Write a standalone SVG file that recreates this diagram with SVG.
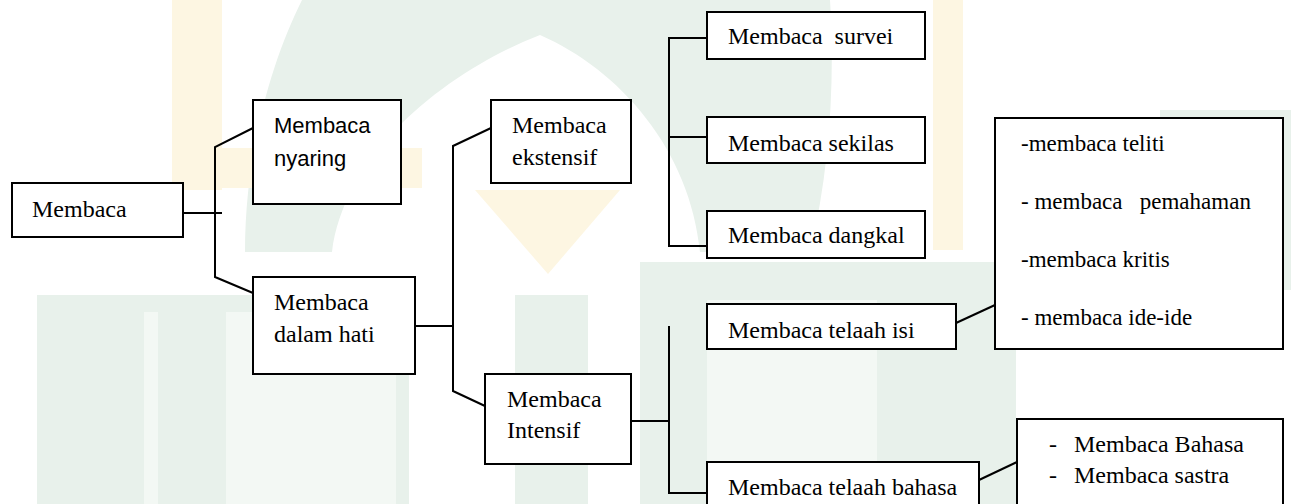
<svg xmlns="http://www.w3.org/2000/svg" width="1291" height="504" viewBox="0 0 1291 504">
  <style>
    .box { fill: #ffffff; stroke: #000000; stroke-width: 2; }
    .conn { fill: none; stroke: #000000; stroke-width: 2; stroke-linejoin: miter; }
    .t { font-family: "Liberation Serif", "Times New Roman", serif; font-size: 24px; fill: #000000; white-space: pre; }
    .t23 { font-size: 23px; }
    .s { font-family: "Liberation Sans", Arial, sans-serif; font-size: 22px; fill: #000000; }
    .wg { fill: #e8f1eb; }
    .wl { fill: #f3f8f4; }
    .wy { fill: #fdf6e2; }
  </style>
  <rect x="0" y="0" width="1291" height="504" fill="#ffffff"/>

  <g id="watermark">
    <path class="wg" d="M 245 252 C 245 150 272 60 302 0 L 830 0 C 835 80 830 170 810 252 L 700 252 C 690 150 620 70 540 35 C 450 70 345 150 332 252 Z"/>
    <rect class="wy" x="172" y="0" width="50" height="190"/>
    <rect class="wy" x="222" y="148" width="200" height="40"/>
    <rect class="wy" x="933" y="0" width="30" height="250"/>
    <polygon class="wy" points="475,190 620,190 548,274"/>
    <rect class="wg" x="37" y="295" width="372" height="209"/>
    <rect class="wl" x="144" y="312" width="14" height="192"/>
    <rect class="wl" x="226" y="312" width="170" height="192"/>
    <rect class="wg" x="515" y="295" width="73" height="209"/>
    <rect class="wg" x="640" y="262" width="376" height="242"/>
    <rect class="wl" x="707" y="300" width="170" height="204"/>
    <rect class="wg" x="1160" y="110" width="131" height="180"/>
  </g>

  <g id="connectors">
    <polyline class="conn" points="183,213 222,213"/>
    <polyline class="conn" points="253,128 215,147 215,277 253,293"/>
    <polyline class="conn" points="415,326 453,326"/>
    <polyline class="conn" points="491,128 453,146 453,391 485,406"/>
    <polyline class="conn" points="707,38 669,38 669,246 707,246"/>
    <polyline class="conn" points="669,137 707,137"/>
    <polyline class="conn" points="631,421 669,421"/>
    <polyline class="conn" points="669,326 669,493 707,493"/>
    <polyline class="conn" points="956,323 995,305"/>
    <polyline class="conn" points="979,480 1017,462"/>
  </g>

  <g id="n-membaca">
    <rect class="box" x="12" y="183" width="171" height="54"/>
    <text class="t" x="32" y="217">Membaca</text>
  </g>
  <g id="n-nyaring">
    <rect class="box" x="253" y="100" width="148" height="104"/>
    <text class="s" x="274" y="133">Membaca</text>
    <text class="s" x="274" y="166">nyaring</text>
  </g>
  <g id="n-dalam-hati">
    <rect class="box" x="253" y="277" width="162" height="97"/>
    <text class="t" x="274" y="310">Membaca</text>
    <text class="t" x="274" y="342">dalam hati</text>
  </g>
  <g id="n-ekstensif">
    <rect class="box" x="491" y="100" width="140" height="83"/>
    <text class="t" x="512" y="133">Membaca</text>
    <text class="t" x="512" y="165">ekstensif</text>
  </g>
  <g id="n-intensif">
    <rect class="box" x="485" y="374" width="146" height="90"/>
    <text class="t" x="507" y="407">Membaca</text>
    <text class="t" x="507" y="438">Intensif</text>
  </g>
  <g id="n-survei">
    <rect class="box" x="707" y="12" width="218" height="47"/>
    <text class="t" x="728" y="44">Membaca  survei</text>
  </g>
  <g id="n-sekilas">
    <rect class="box" x="707" y="117" width="218" height="46"/>
    <text class="t" x="728" y="151">Membaca sekilas</text>
  </g>
  <g id="n-dangkal">
    <rect class="box" x="707" y="211" width="218" height="47"/>
    <text class="t" x="728" y="243">Membaca dangkal</text>
  </g>
  <g id="n-telaah-isi">
    <rect class="box" x="707" y="304" width="249" height="45"/>
    <text class="t" x="728" y="338">Membaca telaah isi</text>
  </g>
  <g id="n-telaah-bahasa">
    <rect class="box" x="707" y="462" width="272" height="60"/>
    <text class="t" x="728" y="495">Membaca telaah bahasa</text>
  </g>
  <g id="n-isi-detail">
    <rect class="box" x="995" y="118" width="288" height="231"/>
    <text class="t t23" x="1021" y="151">-membaca teliti</text>
    <text class="t t23" x="1021" y="209">- membaca   pemahaman</text>
    <text class="t t23" x="1021" y="267">-membaca kritis</text>
    <text class="t t23" x="1021" y="325">- membaca ide-ide</text>
  </g>
  <g id="n-bahasa-detail">
    <rect class="box" x="1017" y="419" width="266" height="100"/>
    <text class="t" x="1049" y="452">-</text>
    <text class="t" x="1074" y="452">Membaca Bahasa</text>
    <text class="t" x="1049" y="483">-</text>
    <text class="t" x="1074" y="483">Membaca sastra</text>
  </g>
</svg>
